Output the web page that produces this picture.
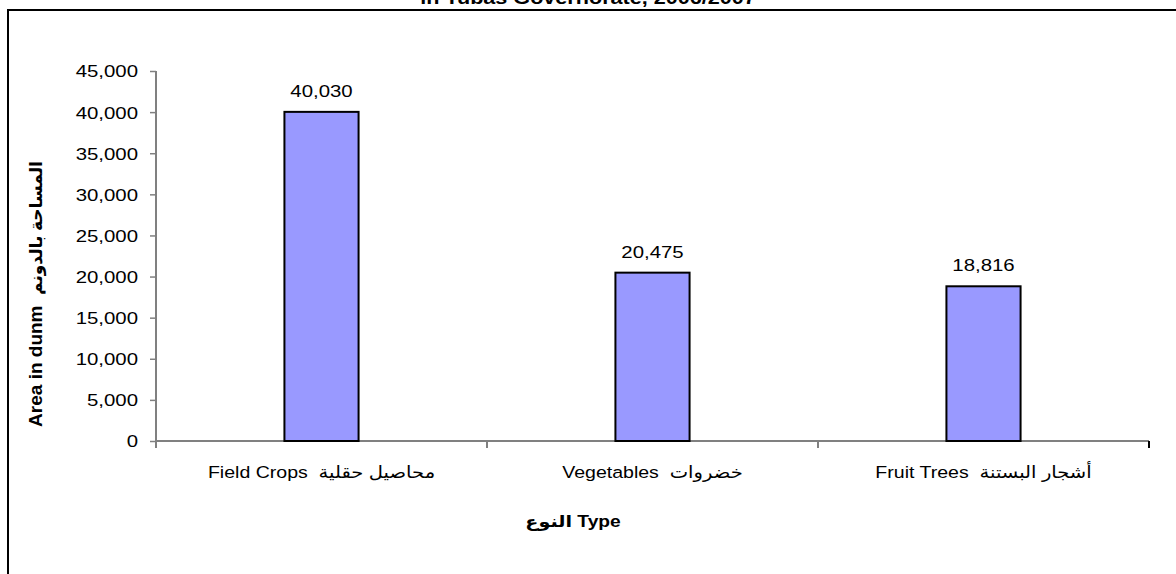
<!DOCTYPE html>
<html>
<head>
<meta charset="utf-8">
<script src="https://cdn.jsdelivr.net/npm/d3@7"></script>
<style>
  body { margin: 0; background: #fff; }
  text { font-family: "Liberation Sans", Arial, "DejaVu Sans", sans-serif; fill: #000; white-space: pre; }
</style>
</head>
<body>
<div id="chart"></div>
<script>
"use strict";

// données
const categories = ["Field Crops  محاصيل حقلية", "Vegetables  خضروات", "Fruit Trees  أشجار البستنة"];
const areas = [40030, 20475, 18816];
const yTicks = [0, 5000, 10000, 15000, 20000, 25000, 30000, 35000, 40000, 45000];
const titleText = "in Tubas Governorate, 2006/2007";
const yTitleEn = "Area in dunm";
const yTitleAr = "المساحة بالدونم";
const xTitle = "النوع Type";

document.addEventListener("DOMContentLoaded", () => {
  const width = 1176;
  const height = 574;
  const sx = 1.2; // le texte d'origine est un peu étiré en largeur

  const plot = { left: 156, right: 1149, top: 71, bottom: 441 };

  const svg = d3
    .select("#chart")
    .append("svg")
    .attr("width", width)
    .attr("height", height);

  // cadre (seuls le haut et la gauche sont visibles)
  svg
    .append("path")
    .attr("d", `M8,${height} V10 H${width}`)
    .attr("fill", "none")
    .attr("stroke", "#000")
    .attr("stroke-width", 2);

  // titre coupé en haut, comme sur l'image d'origine
  svg
    .append("text")
    .attr("transform", `translate(588, 4) scale(${sx},1)`)
    .attr("text-anchor", "middle")
    .style("font-size", "18px")
    .style("font-weight", "bold")
    .text(titleText);

  const x = d3
    .scaleBand()
    .domain(categories)
    .range([plot.left, plot.right])
    .paddingInner(0.776)
    .paddingOuter(0.388);

  const y = d3
    .scaleLinear()
    .domain([0, 45000])
    .range([plot.bottom, plot.top]);

  // axe Y
  const yAxis = svg
    .append("g")
    .attr("transform", `translate(${plot.left},0)`)
    .call(
      d3
        .axisLeft(y)
        .tickValues(yTicks)
        .tickFormat(d3.format(","))
        .tickSize(6)
        .tickPadding(0)
    );
  yAxis.select(".domain").attr("stroke", "#808080").attr("stroke-width", 2)
    .attr("d", `M0,${plot.top}V${plot.bottom + 6}`);
  yAxis.selectAll(".tick line").attr("stroke", "#808080").attr("stroke-width", 1.5);
  yAxis
    .selectAll(".tick text")
    .attr("x", 0)
    .attr("dy", "0.35em")
    .attr("transform", `translate(-18,0) scale(${sx},1)`)
    .style("font-size", "17px")
    .style("font-family", '"Liberation Sans", Arial, sans-serif');

  // axe X : ligne de base et petits traits entre les catégories
  svg
    .append("line")
    .attr("x1", plot.left)
    .attr("x2", plot.right)
    .attr("y1", y(0))
    .attr("y2", y(0))
    .attr("stroke", "#808080")
    .attr("stroke-width", 2);

  const bounds = categories.map((c) => x(c) - x.step() * x.paddingOuter()).concat([plot.right]);
  svg
    .append("g")
    .selectAll("line")
    .data(bounds)
    .join("line")
    .attr("x1", (d) => d)
    .attr("x2", (d) => d)
    .attr("y1", y(0))
    .attr("y2", y(0) + 7)
    .attr("stroke", (d, i) => (i === bounds.length - 1 ? "#000" : "#808080"))
    .attr("stroke-width", 2);

  // barres
  svg
    .append("g")
    .selectAll("rect")
    .data(areas)
    .join("rect")
    .attr("x", (d, i) => x(categories[i]))
    .attr("y", (d) => y(d))
    .attr("width", x.bandwidth())
    .attr("height", (d) => y(0) - y(d))
    .attr("fill", "#9999FF")
    .attr("stroke", "#000")
    .attr("stroke-width", 2);

  // valeurs au-dessus des barres
  svg
    .append("g")
    .selectAll("text")
    .data(areas)
    .join("text")
    .attr(
      "transform",
      (d, i) => `translate(${x(categories[i]) + x.bandwidth() / 2},${y(d) - 15}) scale(${sx},1)`
    )
    .attr("text-anchor", "middle")
    .style("font-size", "17px")
    .text((d) => d3.format(",")(d));

  // étiquettes des catégories
  svg
    .append("g")
    .selectAll("text")
    .data(categories)
    .join("text")
    .attr(
      "transform",
      (d) => `translate(${x(d) + x.bandwidth() / 2},478) scale(1.15,1)`
    )
    .attr("text-anchor", "middle")
    .style("font-size", "17px")
    .text((d) => d);

  // titre de l'axe X
  svg
    .append("text")
    .attr("transform", `translate(573,527) scale(${sx},1)`)
    .attr("text-anchor", "middle")
    .style("font-size", "16px")
    .style("font-weight", "bold")
    .text(xTitle);

  // titre de l'axe Y
  const yt = svg
    .append("text")
    .attr("transform", "translate(42,294) rotate(-90)")
    .attr("text-anchor", "middle");
  yt.append("tspan")
    .style("font-size", "19px")
    .style("font-weight", "bold")
    .text(yTitleEn + "  ");
  yt.append("tspan")
    .style("font-size", "17px")
    .style("font-weight", "bold")
    .text(yTitleAr);
});
</script>
</body>
</html>
